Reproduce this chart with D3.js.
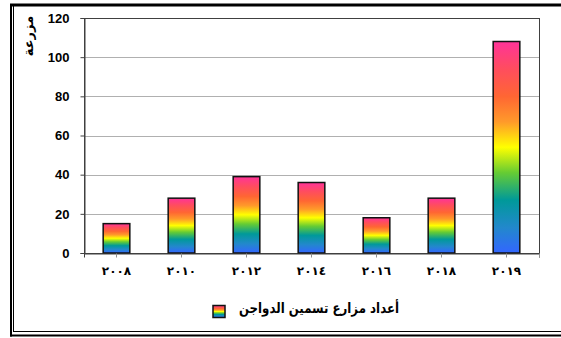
<!DOCTYPE html>
<html><head><meta charset="utf-8">
<script src="https://cdn.jsdelivr.net/npm/d3@7"></script>
<style>
html,body{margin:0;padding:0;background:#fff;overflow:hidden;}
svg{display:block;}
</style></head>
<body>
<svg id="chart" width="561" height="338"></svg>
<script>
const categories = ["2008","2010","2012","2014","2016","2018","2019"];
const categoryLabels = ["٢٠٠٨","٢٠١٠","٢٠١٢","٢٠١٤","٢٠١٦","٢٠١٨","٢٠١٩"];
const values = [15, 28, 39, 36, 18, 28, 108];
const yTicks = [0, 20, 40, 60, 80, 100, 120];
const seriesName = "أعداد مزارع تسمين الدواجن";
const yTitle = "مزرعة";

(function(){
const svg = d3.select("#chart");
const pL = 84, pR = 539, pT = 18, pB = 253;

// gradient
const defs = svg.append("defs");
const grad = defs.append("linearGradient").attr("id","rainbow")
  .attr("x1",0).attr("y1",0).attr("x2",0).attr("y2",1);
[[0,"#ff3399"],[0.13,"#ff4d5e"],[0.26,"#ff6633"],[0.38,"#ff9a2a"],[0.5,"#ffff00"],
 [0.62,"#66cc33"],[0.75,"#009999"],[0.88,"#2288cc"],[1,"#3366ff"]].forEach(([o,c])=>{
  grad.append("stop").attr("offset",o).attr("stop-color",c);
});

// frame
const frame = svg.append("g").attr("fill","none").attr("stroke","#000");
frame.append("line").attr("x1",10).attr("x2",570).attr("y1",5).attr("y2",5).attr("stroke-width",3);
frame.append("line").attr("x1",11).attr("x2",11).attr("y1",4).attr("y2",336.5).attr("stroke-width",2);
frame.append("line").attr("x1",13.5).attr("x2",13.5).attr("y1",6).attr("y2",332).attr("stroke-width",1);
frame.append("line").attr("x1",13).attr("x2",570).attr("y1",331.5).attr("y2",331.5).attr("stroke-width",1);
frame.append("line").attr("x1",10).attr("x2",570).attr("y1",335.5).attr("y2",335.5).attr("stroke-width",2);

const y = d3.scaleLinear().domain([0,120]).range([pB, pT]);
const x = d3.scaleBand().domain(categories).range([pL, pR]).paddingInner(0.59).paddingOuter(0.295);

// gridlines
svg.append("g").selectAll("line").data(yTicks.filter(v=>v>0 && v<120)).join("line")
  .attr("x1",pL).attr("x2",pR)
  .attr("y1",d=>Math.round(y(d))+0.5).attr("y2",d=>Math.round(y(d))+0.5)
  .attr("stroke","#b0b0b0").attr("stroke-width",1);

// plot border
svg.append("rect").attr("x",pL+0.5).attr("y",pT+0.5).attr("width",pR-pL).attr("height",pB-pT)
  .attr("fill","none").attr("stroke","#404040").attr("stroke-width",1);

// bars
svg.append("g").selectAll("rect").data(values).join("rect")
  .attr("x",(d,i)=>x(categories[i]))
  .attr("y",d=>y(d))
  .attr("width",x.bandwidth())
  .attr("height",d=>y(0)-y(d))
  .attr("fill","url(#rainbow)")
  .attr("stroke","#111").attr("stroke-width",1.5);

// y axis
const yAxis = d3.axisLeft(y).tickValues(yTicks).tickSize(4).tickPadding(11);
const gy = svg.append("g").attr("transform",`translate(${pL+0.5},0)`).call(yAxis);
gy.select(".domain").attr("stroke","#404040");
gy.selectAll(".tick line").attr("stroke","#404040");
gy.selectAll(".tick text").attr("font-family","Liberation Sans, Arial, sans-serif")
  .attr("font-size",13).attr("font-weight","bold").attr("fill","#000");

// x axis
const xAxis = d3.axisBottom(x).tickSize(4).tickPadding(9).tickFormat((d,i)=>categoryLabels[i]);
const gx = svg.append("g").attr("transform",`translate(0,${pB+0.5})`).call(xAxis);
gx.select(".domain").attr("stroke","#404040");
gx.selectAll(".tick line").attr("stroke","#909090");
gx.selectAll(".tick text").attr("font-family","DejaVu Sans, sans-serif")
  .attr("font-size",12).attr("font-weight","bold").attr("fill","#000")
  .attr("letter-spacing","2px");
gx.append("line").attr("x1",pR+0.5).attr("x2",pR+0.5).attr("y1",0).attr("y2",4).attr("stroke","#909090");

// y title
svg.append("text").attr("transform","translate(33,36) rotate(-90)")
  .attr("text-anchor","middle").attr("font-family","DejaVu Sans, sans-serif")
  .attr("font-size",13).attr("font-weight","bold").attr("fill","#000").text(yTitle);

// legend
svg.append("rect").attr("x",213).attr("y",305.5).attr("width",12).attr("height",12)
  .attr("fill","url(#rainbow)").attr("stroke","#111").attr("stroke-width",1.5);
svg.append("text").attr("x",239).attr("y",313)
  .attr("textLength",160).attr("lengthAdjust","spacingAndGlyphs")
  .attr("font-family","DejaVu Sans, sans-serif").attr("font-size",14).attr("font-weight","bold")
  .attr("fill","#000").text(seriesName);
})();
</script>
</body></html>
